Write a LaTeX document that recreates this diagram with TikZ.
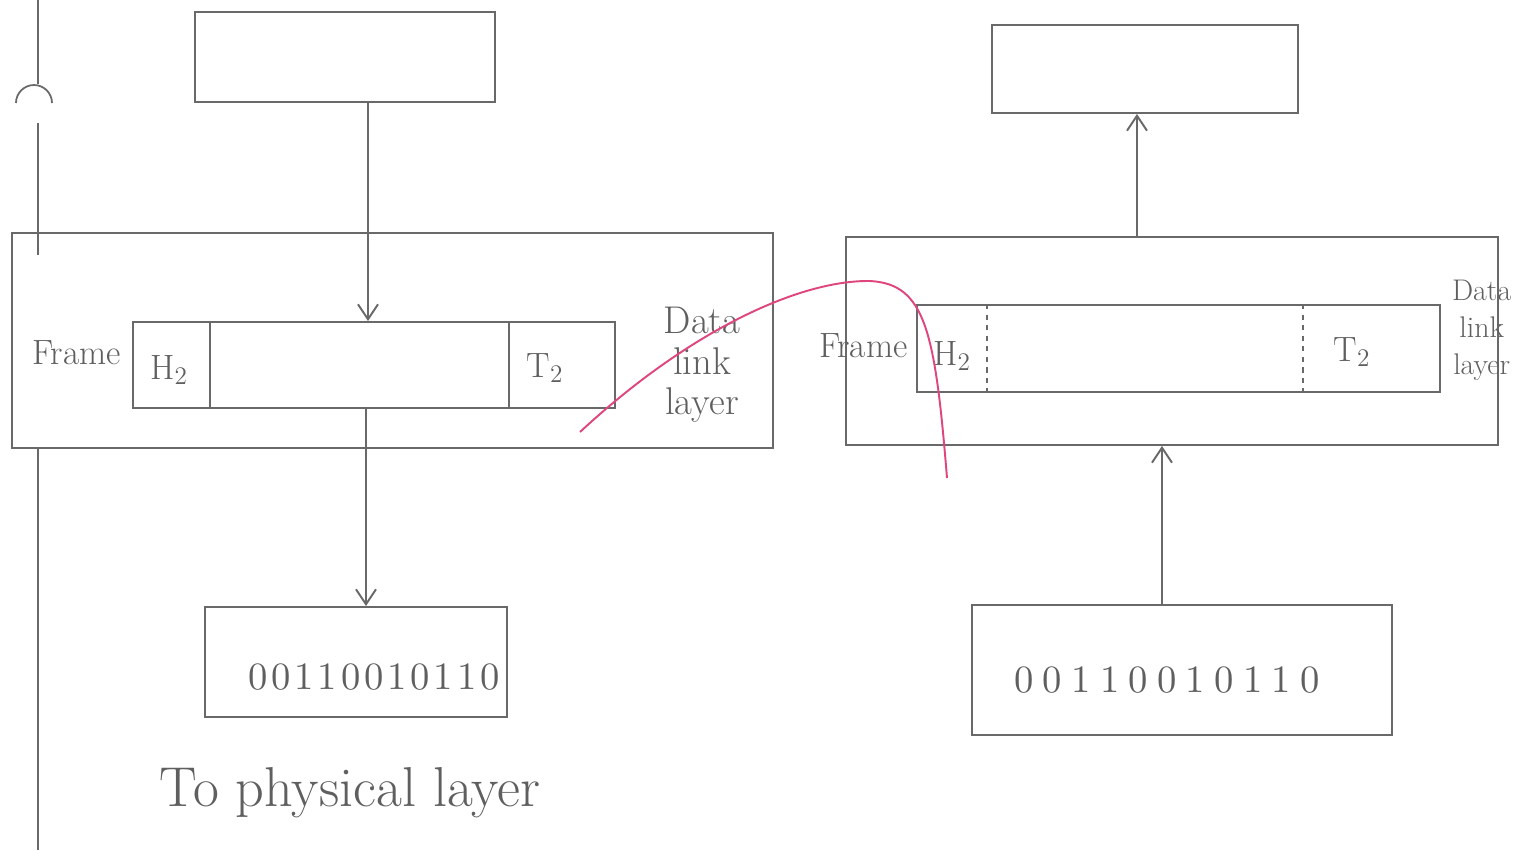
\documentclass[tikz,border=0pt]{standalone}
\usepackage{fontspec}
\usepackage{xcolor}
\usepackage{tikz}
\usetikzlibrary{
  arrows.meta,
  calc,
  positioning
}
\newfontfamily\bitsfont{lmroman10-regular.otf}[LetterSpace=10]
\newfontfamily\bitsfontwide{lmroman10-regular.otf}[LetterSpace=24]
\definecolor{pencil}{RGB}{105,105,105}
\definecolor{redpen}{RGB}{222,70,125}
\tikzset{
  hand/.style={ font=\fontsize{20}{24}\selectfont, text=pencil!90!black },
  box/.style={
    draw=pencil,
    line width=1.1pt,
    inner sep=0pt,
    minimum width=#1
  },
  box/.default=3cm,
  arrow/.style={
    -{Straight Barb[length=3mm,width=4mm]},
    line width=1.1pt,
    draw=pencil
  },
  divider/.style={ draw=pencil, line width=1pt },
  bits/.style={
    hand,
    font=\bitsfont\fontsize{22}{24}\selectfont
  },
  note/.style={
    hand,
    align=center,
    font=\fontsize{22}{23}\selectfont
  }
}

\begin{document}
\begin{tikzpicture}[x=0.02cm, y=-0.02cm, hand]
  \useasboundingbox[fill=white] (0,0) rectangle (1526,850);

  % sender side
  \node[box=6cm, minimum height=1.8cm] (netL) at (345,57) {};
  \node[box=15.22cm, minimum height=4.3cm] (dllL) at (392.5,340.5) {};
  \node[box=9.64cm, minimum height=1.72cm] (frameL) at (374,365) {};
  \node[box=6.04cm, minimum height=2.2cm] (physL) at (356,662) {};

  \draw[divider] ($(frameL.north west)+(78,0)$) -- ($(frameL.south west)+(78,0)$);
  \draw[divider] ($(frameL.north east)+(-107,0)$) -- ($(frameL.south east)+(-107,0)$);
  \node (h2L) at (169,370) {H$_2$};
  \node (t2L) at (545,368) {T$_2$};
  \node[left=0.1cm of frameL.west, yshift=0.25cm] (frameLlbl) {Frame};
  \node[note] (dllLlbl) at (702,365) {Data\\link\\layer};
  \node[bits] (bitsL) at (374,677) {00110010110};
  \node[note, font=\fontsize{32}{34}\selectfont] (physLlbl) at (350,793) {To physical layer};

  \draw[arrow] ($(frameL.north |- netL.south)+(-6,0)$) -- ($(frameL.north)+(-6,0)$);
  \draw[arrow] ($(frameL.south)+(-8,0)$) -- ($(frameL.south |- physL.north)+(-8,0)$);

  % receiver side
  \node[box=6.12cm, minimum height=1.76cm] (netR) at (1145,69) {};
  \node[box=13.04cm, minimum height=4.16cm] (dllR) at (1172,341) {};
  \node[box=10.46cm, minimum height=1.74cm] (frameR) at (1178.5,348.5) {};
  \node[box=8.4cm, minimum height=2.6cm] (physR) at (1182,670) {};

  \draw[divider, dashed] ($(frameR.north west)+(71,0)$) -- ($(frameR.south west)+(71,0)$);
  \draw[divider, dashed] ($(frameR.north east)+(-138,0)$) -- ($(frameR.south east)+(-138,0)$);
  \node (h2R) at (952,356) {H$_2$};
  \node (t2R) at (1352,352) {T$_2$};
  \node[left=0.05cm of frameR.west, yshift=0.05cm] (frameRlbl) {Frame};
  \node[note, anchor=west, inner sep=1pt, font=\fontsize{17}{21}\selectfont] (dllRlbl) at (1450,330) {Data\\link\\layer};
  \node[bits, font=\bitsfontwide\fontsize{22}{24}\selectfont] (bitsR) at (1167,680) {00110010110};

  \draw[arrow] ($(dllR.north -| netR.south)+(-8,0)$) -- ($(netR.south)+(-8,0)$);
  \draw[arrow] ($(physR.north)+(-20,0)$) -- ($(physR.north |- dllR.south)+(-20,0)$);

  % margin line on the left
  \draw[divider] (38,0) -- (38,84);
  \draw[divider] (16,103) arc[start angle=180, end angle=360, radius=18];
  \draw[divider] (38,123) -- (38,255);
  \draw[divider] (38,448) -- (38,850);

  % red pen stroke
  \draw[redpen, line width=1.1pt]
    (580,432) .. controls (690,330) and (800,280) .. (870,281)
              .. controls (925,284) and (935,330) .. (947,478);
\end{tikzpicture}
\end{document}
